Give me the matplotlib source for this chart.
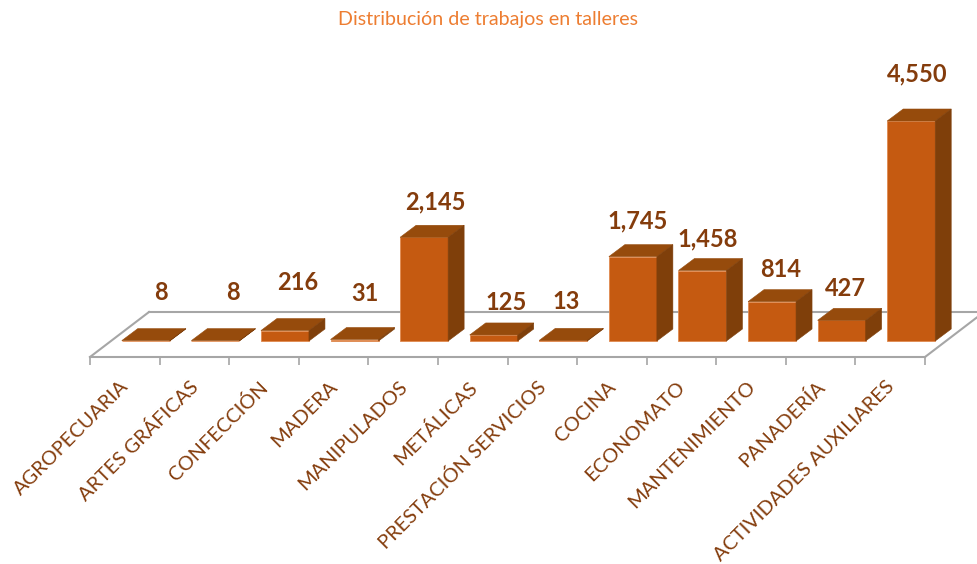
import matplotlib
matplotlib.use("Agg")
import matplotlib.pyplot as plt
from matplotlib.patches import Polygon
from matplotlib.transforms import ScaledTranslation

plt.rcParams['font.family'] = ['Lato', 'DejaVu Sans']

categorias = ['AGROPECUARIA', 'ARTES GRÁFICAS', 'CONFECCIÓN', 'MADERA', 'MANIPULADOS', 'METÁLICAS',
              'PRESTACIÓN SERVICIOS', 'COCINA', 'ECONOMATO', 'MANTENIMIENTO', 'PANADERÍA', 'ACTIVIDADES AUXILIARES']
trabajos = [8, 8, 216, 31, 2145, 125, 13, 1745, 1458, 814, 427, 4550]
etiquetas = ['8', '8', '216', '31', '2,145', '125', '13', '1,745', '1,458', '814', '427', '4,550']

# ajuste a mano de las etiquetas (px respecto a la cara trasera de la barra)
lab_dx = [7, 10, 5, 2, 3, 4, -5, -3, -3, 1, -4, -2]
lab_dy = [36, 36, 36, 34, 23, 20, 27, 24, 20, 20, 20, 35]

W, H = 977, 564
frente = '#C55A11'
arriba = '#964B0C'
lado = '#7F3F0A'
texto = '#843C0C'
gris = '#A6A6A6'

# escala en pixeles de la figura
px_cat = (925 - 90) / 12
px_val = 220 / 4550
ancho = 48 / px_cat
dx = 16 / px_cat   # profundidad de cada barra
dy = 12 / px_val
corr = 21 / px_cat  # la barra va desplazada hacia el fondo
base = -16 / px_val  # linea frontal del suelo

fig = plt.figure(figsize=(W / 100, H / 100), dpi=100)
ax = fig.add_axes([90 / W, (H - 357) / H, (925 - 90) / W, 357 / H])
ax.set_xlim(-0.5, 11.5)
ax.set_ylim(base, base + 357 / px_val)

xs = [i + corr for i in range(len(trabajos))]
ax.bar(xs, trabajos, width=ancho, color=frente, edgecolor='#E08A50', linewidth=0.6, zorder=3, clip_on=False)

for x, v, et, ldx, ldy in zip(xs, trabajos, etiquetas, lab_dx, lab_dy):
    x0 = x - ancho / 2
    x1 = x + ancho / 2
    ax.add_patch(Polygon([(x0, v), (x1, v), (x1 + dx, v + dy), (x0 + dx, v + dy)],
                         facecolor=arriba, edgecolor=arriba, linewidth=0.4, zorder=3, clip_on=False))
    ax.add_patch(Polygon([(x1, 0), (x1 + dx, dy), (x1 + dx, v + dy), (x1, v)],
                         facecolor=lado, edgecolor=lado, linewidth=0.4, zorder=3, clip_on=False))
    ax.annotate(et, (x + dx / 2, v + dy), xytext=(ldx, ldy), textcoords='offset pixels',
                ha='center', va='center', fontsize=17, fontweight='bold', color=texto, zorder=4)

# suelo
prof_x = 59 / px_cat
prof_y = 45 / px_val
ax.plot([-0.5, -0.5 + prof_x], [base, base + prof_y], color=gris, lw=1.5, clip_on=False, zorder=1)
ax.plot([11.5, 11.5 + prof_x], [base, base + prof_y], color=gris, lw=1.5, clip_on=False, zorder=1)
ax.plot([-0.5 + prof_x, 11.5 + prof_x], [base + prof_y, base + prof_y], color=gris, lw=1.5, clip_on=False, zorder=1)

for s in ['top', 'left', 'right']:
    ax.spines[s].set_visible(False)
ax.spines['bottom'].set_color(gris)
ax.spines['bottom'].set_linewidth(1.5)
ax.set_yticks([])
ax.set_xticks(range(len(categorias)))
ax.set_xticklabels(categorias, rotation=45, ha='right', va='top', rotation_mode='anchor',
                   fontsize=14.4, color=texto)
ax.tick_params(axis='x', length=0, pad=15)
ax.set_xticks([i - 0.5 for i in range(len(categorias) + 1)], minor=True)
ax.tick_params(axis='x', which='minor', length=6, width=1.2, color=gris)
ax.patch.set_alpha(0)

# las etiquetas van un poco mas a la izquierda que el centro de la categoria
corrimiento = ScaledTranslation(-5 / 100, 0, fig.dpi_scale_trans)
for t in ax.get_xticklabels():
    t.set_transform(t.get_transform() + corrimiento)

fig.text(487.5 / W, 1 - 19 / H, 'Distribución de trabajos en talleres', ha='center', va='center',
         fontsize=14.1, color='#ED7D31')

plt.savefig('out.png', dpi=100)
